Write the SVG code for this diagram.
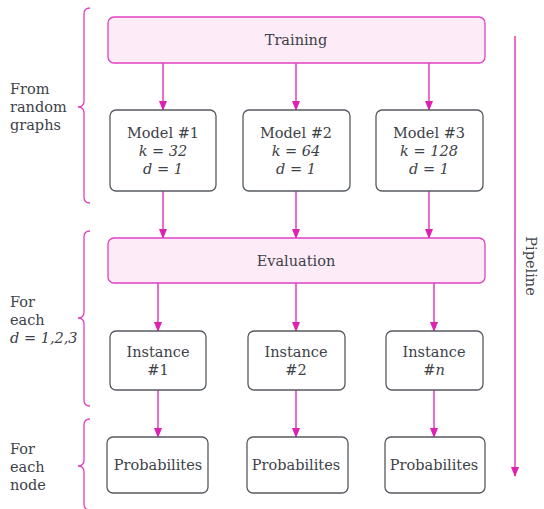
<svg xmlns="http://www.w3.org/2000/svg" width="544" height="509" viewBox="0 0 544 509">
<defs>
<marker id="ah" markerWidth="10" markerHeight="10" refX="9" refY="5" orient="auto" markerUnits="userSpaceOnUse">
<path d="M0,1 L10,5 L0,9 Z" fill="#e020b0"/>
</marker>
<style>
text{font-family:"DejaVu Serif","Liberation Serif",serif;font-size:14.5px;fill:#3d4248}
.c{text-anchor:middle}
.i{font-style:italic}
.stage rect{fill:#fdebf8;stroke:#e040c0;stroke-width:1.3}
.node rect{fill:#ffffff;stroke:#555a60;stroke-width:1.3}
.conn line{stroke:#e020b0;stroke-width:1.3;marker-end:url(#ah)}
.brace path{fill:none;stroke:#e040c0;stroke-width:1.3}
</style>
</defs>
<rect width="544" height="509" fill="#ffffff"/>

<g class="brace">
<path d="M90,8 Q84,8 84,14 L84,101 Q84,107 78,107 Q84,107 84,113 L84,197 Q84,203 90,203"/>
<path d="M90,231 Q84,231 84,237 L84,312 Q84,318 78,318 Q84,318 84,324 L84,400 Q84,406 90,406"/>
<path d="M90,419 Q84,419 84,425 L84,460 Q84,466 78,466 Q84,466 84,472 L84,504 Q84,510 90,510"/>
</g>

<g id="label-random">
<text x="10" y="94">From</text>
<text x="10" y="112">random</text>
<text x="10" y="130">graphs</text>
</g>
<g id="label-each-d">
<text x="10" y="307">For</text>
<text x="10" y="325">each</text>
<text x="10" y="343" class="i">d = 1,2,3</text>
</g>
<g id="label-each-node">
<text x="10" y="454">For</text>
<text x="10" y="472">each</text>
<text x="10" y="490">node</text>
</g>

<g class="conn">
<line x1="163" y1="63" x2="163" y2="110"/>
<line x1="296" y1="63" x2="296" y2="110"/>
<line x1="429" y1="63" x2="429" y2="110"/>
<line x1="163" y1="191" x2="163" y2="238"/>
<line x1="296" y1="191" x2="296" y2="238"/>
<line x1="429" y1="191" x2="429" y2="238"/>
<line x1="158" y1="283" x2="158" y2="331"/>
<line x1="296" y1="283" x2="296" y2="331"/>
<line x1="434" y1="283" x2="434" y2="331"/>
<line x1="158" y1="390" x2="158" y2="437"/>
<line x1="296" y1="390" x2="296" y2="437"/>
<line x1="434" y1="390" x2="434" y2="437"/>
<line x1="515" y1="36" x2="515" y2="476"/>
</g>

<g id="pipeline">
<text class="c" transform="translate(526,266) rotate(90)">Pipeline</text>
</g>

<g id="training" class="stage">
<rect x="108" y="17" width="377" height="46" rx="6"/>
<text class="c" x="296" y="45">Training</text>
</g>

<g id="model1" class="node">
<rect x="110" y="110" width="106" height="81" rx="6"/>
<text class="c" x="163" y="138">Model #1</text>
<text class="c i" x="163" y="156">k = 32</text>
<text class="c i" x="163" y="174">d = 1</text>
</g>
<g id="model2" class="node">
<rect x="243" y="110" width="107" height="81" rx="6"/>
<text class="c" x="296" y="138">Model #2</text>
<text class="c i" x="296" y="156">k = 64</text>
<text class="c i" x="296" y="174">d = 1</text>
</g>
<g id="model3" class="node">
<rect x="376" y="110" width="107" height="81" rx="6"/>
<text class="c" x="429" y="138">Model #3</text>
<text class="c i" x="429" y="156">k = 128</text>
<text class="c i" x="429" y="174">d = 1</text>
</g>

<g id="evaluation" class="stage">
<rect x="108" y="238" width="377" height="45" rx="6"/>
<text class="c" x="296" y="266">Evaluation</text>
</g>

<g id="instance1" class="node">
<rect x="110" y="331" width="96" height="59" rx="6"/>
<text class="c" x="158" y="357">Instance</text>
<text class="c" x="158" y="375">#1</text>
</g>
<g id="instance2" class="node">
<rect x="248" y="331" width="97" height="59" rx="6"/>
<text class="c" x="296" y="357">Instance</text>
<text class="c" x="296" y="375">#2</text>
</g>
<g id="instancen" class="node">
<rect x="386" y="331" width="97" height="59" rx="6"/>
<text class="c" x="434" y="357">Instance</text>
<text class="c" x="434" y="375">#<tspan class="i">n</tspan></text>
</g>

<g id="prob1" class="node">
<rect x="107" y="437" width="101" height="56" rx="6"/>
<text class="c" x="158" y="470">Probabilites</text>
</g>
<g id="prob2" class="node">
<rect x="247" y="437" width="101" height="56" rx="6"/>
<text class="c" x="296" y="470">Probabilites</text>
</g>
<g id="prob3" class="node">
<rect x="385" y="437" width="100" height="56" rx="6"/>
<text class="c" x="434" y="470">Probabilites</text>
</g>
</svg>
